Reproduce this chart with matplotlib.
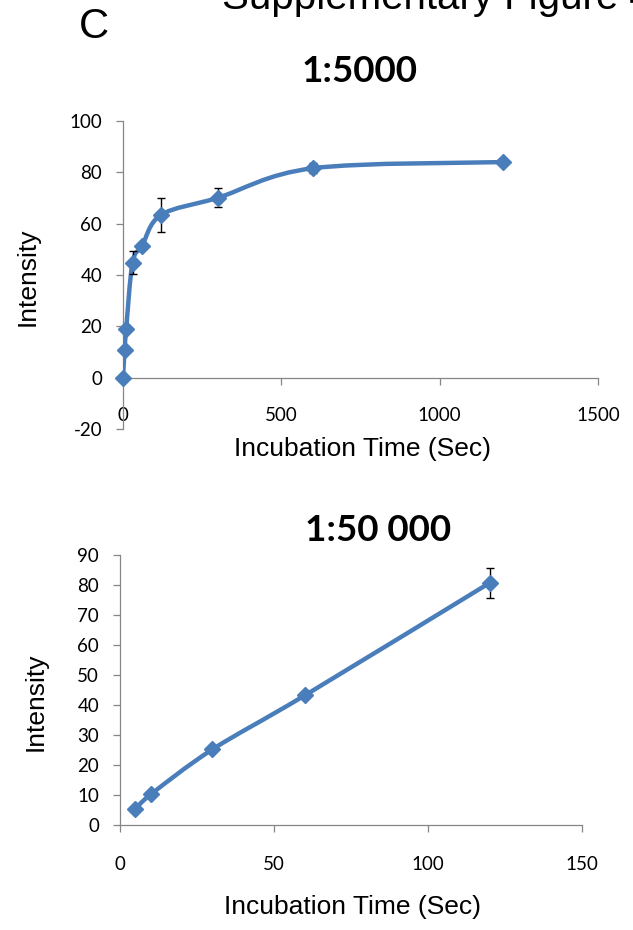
import numpy as np
import matplotlib
matplotlib.use("Agg")
import matplotlib.pyplot as plt
from matplotlib.path import Path
from matplotlib.patches import PathPatch

# ---------------- data ----------------
top_title = "1:5000"
top_time = [0, 5, 10, 30, 60, 120, 300, 600, 1200]
top_intensity = [0, 10.8, 18.9, 44.8, 51.3, 63.4, 70.1, 81.6, 84.0]
top_err = [0, 0, 0, 4.4, 0.8, 6.7, 3.7, 2.0, 0]
top_xticks = [0, 500, 1000, 1500]
top_yticks = [-20, 0, 20, 40, 60, 80, 100]

bot_title = "1:50 000"
bot_time = [5, 10, 30, 60, 120]
bot_intensity = [5.2, 10.2, 25.2, 43.2, 80.7]
bot_err = [0, 1.0, 0, 0, 4.9]
bot_xticks = [0, 50, 100, 150]
bot_yticks = [0, 10, 20, 30, 40, 50, 60, 70, 80, 90]

xlabel = "Incubation Time (Sec)"
ylabel = "Intensity"
panel_letter = "C"
header = "Supplementary Figure 4"

BLUE = "#4A7EBB"
GRAY = "#868686"
W, H = 633, 930


def smooth_path(x, y):
    pts = np.column_stack([np.asarray(x, float), np.asarray(y, float)])
    n = len(pts)
    verts = [pts[0]]
    codes = [Path.MOVETO]
    for i in range(n - 1):
        p0 = pts[i - 1] if i > 0 else pts[i]
        p1 = pts[i]
        p2 = pts[i + 1]
        p3 = pts[i + 2] if i + 2 < n else pts[i + 1]
        c1 = p1 + (p2 - p0) / 6.0
        c2 = p2 - (p3 - p1) / 6.0
        verts += [c1, c2, p2]
        codes += [Path.CURVE4] * 3
    return Path(verts, codes)


fig = plt.figure(figsize=(W / 100, H / 100), dpi=100)

tick_font = dict(family="Lato", size=13.5)
label_font = dict(family="Liberation Sans", size=19)
title_font = dict(family="Lato", size=26.5, weight="bold")


def make_axes(px_left, px_right, px_top, px_bottom):
    return fig.add_axes([px_left / W, 1 - px_bottom / H,
                         (px_right - px_left) / W, (px_bottom - px_top) / H])


def style(ax, xticks, yticks, xpad, xspine_at_zero=False):
    for s in ["top", "right"]:
        ax.spines[s].set_visible(False)
    if xspine_at_zero:
        ax.spines["bottom"].set_position(("data", 0))
    for s in ["left", "bottom"]:
        ax.spines[s].set_color(GRAY)
        ax.spines[s].set_linewidth(0.9)
    ax.set_xticks(xticks)
    ax.set_yticks(yticks)
    ax.set_xticklabels([str(v) for v in xticks], fontdict=tick_font)
    ax.set_yticklabels([str(v) for v in yticks], fontdict=tick_font)
    ax.tick_params(axis="both", direction="out", length=5, width=0.9,
                   color=GRAY, labelcolor="black")
    ax.tick_params(axis="y", pad=10)
    ax.tick_params(axis="x", pad=xpad)
    ax.patch.set_alpha(0)


def draw_series(ax, x, y, err):
    ax.add_patch(PathPatch(smooth_path(x, y), facecolor="none",
                           edgecolor=BLUE, lw=3.2, zorder=3,
                           capstyle="round", joinstyle="round"))
    xe = [a for a, e in zip(x, err) if e > 0]
    ye = [b for b, e in zip(y, err) if e > 0]
    ee = [e for e in err if e > 0]
    ax.errorbar(xe, ye, yerr=ee, fmt="none", ecolor="black",
                elinewidth=1.0, capsize=3, capthick=1.0, zorder=4)
    ax.plot(x, y, linestyle="none", marker="D", markersize=7.8,
            color=BLUE, zorder=5, clip_on=False)


# ---------------- top panel ----------------
ax1 = make_axes(123, 598, 121, 429)
ax1.set_xlim(0, 1500)
ax1.set_ylim(-20, 100)
style(ax1, top_xticks, top_yticks, xpad=16, xspine_at_zero=True)
draw_series(ax1, top_time, top_intensity, top_err)
ax1.set_xlabel(xlabel, fontdict=label_font)
ax1.xaxis.label.set_va("center")
ax1.xaxis.set_label_coords((362 - 123) / 475, (429 - 449) / 308)
ax1.set_ylabel(ylabel, fontdict=label_font)
ax1.yaxis.label.set_va("center")
ax1.yaxis.set_label_coords((28 - 123) / 475, (429 - 277) / 308)
fig.text(360 / W, 1 - 72 / H, top_title, ha="center", va="center",
         fontdict=title_font)

# ---------------- bottom panel ----------------
ax2 = make_axes(120, 582, 555, 825)
ax2.set_xlim(0, 150)
ax2.set_ylim(0, 90)
style(ax2, bot_xticks, bot_yticks, xpad=17)
draw_series(ax2, bot_time, bot_intensity, bot_err)
ax2.set_xlabel(xlabel, fontdict=label_font)
ax2.xaxis.label.set_va("center")
ax2.xaxis.set_label_coords((352 - 120) / 462, (825 - 907) / 270)
ax2.set_ylabel(ylabel, fontdict=label_font)
ax2.yaxis.label.set_va("center")
ax2.yaxis.set_label_coords((36 - 120) / 462, (825 - 702) / 270)
fig.text(378 / W, 1 - 530 / H, bot_title, ha="center", va="center",
         fontdict=title_font)

# ---------------- header texts ----------------
fig.text(94 / W, 1 - 27 / H, panel_letter, ha="center", va="center",
         family="Liberation Sans", size=30)
fig.text(222 / W, 1 - 9 / H, header, ha="left", va="baseline",
         family="Liberation Sans", size=29)

fig.savefig("out.png", dpi=100)
